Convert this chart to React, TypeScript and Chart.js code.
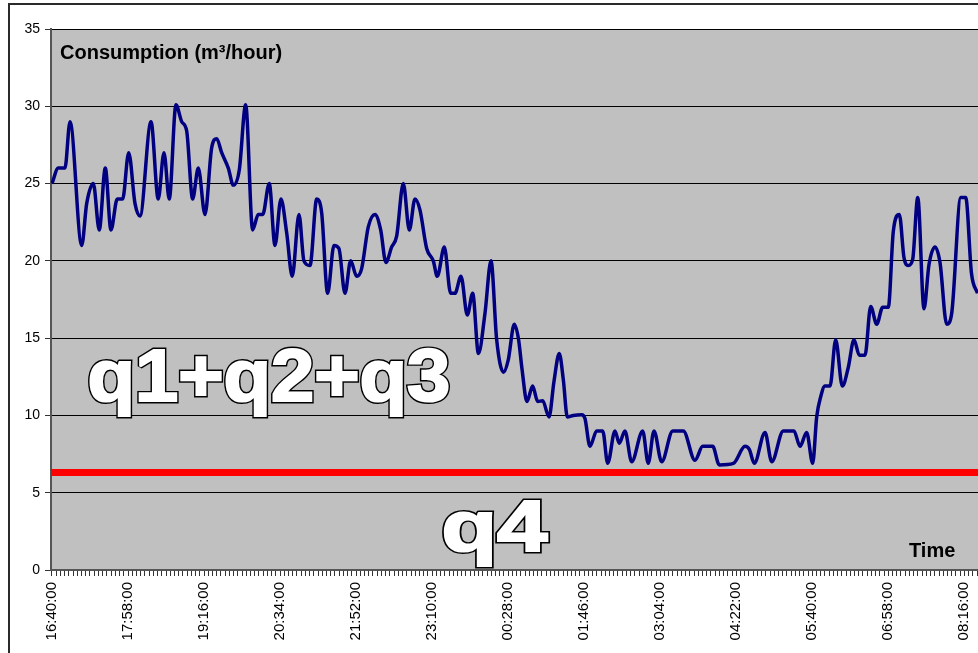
import React, { useEffect, useRef } from 'react';
import { Chart, registerables } from 'chart.js';

Chart.register(...registerables);

const FONT = '"Liberation Sans", Arial, Helvetica, sans-serif';

// Time axis labels (one every 78 minutes, starting 16:40:00)
const tickLabels = [
  '16:40:00', '17:58:00', '19:16:00', '20:34:00', '21:52:00', '23:10:00', '00:28:00',
  '01:46:00', '03:04:00', '04:22:00', '05:40:00', '06:58:00', '08:16:00',
];
const minutesPerLabel = 78;
const minorTicksPerLabel = 18;
const axisEndMinutes = 950;

// Minutes after 16:40:00 of the readings, and consumption (m³/hour)
const sampleMinutes = [
  0, 6.5, 13.3, 18.5, 30.5, 35.6, 42.4, 48.5, 54.7, 60.5,
  67, 72.5, 78.7, 85.2, 90.3, 101.6, 109, 114.9, 120.3, 127.2,
  133.1, 138.2, 144.3, 150.1, 157, 163.8, 169, 174.1, 180.9, 186,
  192.2, 198.7, 205.9, 211.6, 216.2, 222.9, 228.8, 234.9, 240.8, 246.5,
  253.4, 258.5, 264.7, 271.6, 276.7, 282.8, 289.3, 294.4, 300.6, 306.4,
  312.6, 317.7, 324.5, 331.4, 337.2, 342.6, 348.5, 353.6, 360.4, 366.6,
  372.4, 377.5, 384.4, 391.2, 395.3, 402.5, 409, 413.4, 419.6, 426.1,
  431.6, 437.5, 444.2, 450.4, 456.2, 463.2, 468.1, 474.3, 478.7, 482.2,
  487.3, 493.1, 498.3, 503.4, 509.9, 515, 520.4, 524.6, 528.7, 534.8,
  543.4, 546.8, 551.9, 558.8, 565, 570.1, 577.6, 582, 587.8, 594.7,
  606, 611.7, 617.6, 625.5, 636.8, 647.7, 659.6, 667.6, 677.8, 684.6,
  699, 711, 715.4, 720.5, 731.5, 738.4, 750.2, 761.2, 767.4, 774.2,
  780.4, 784.5, 788.6, 793, 798.2, 804, 810.8, 816.9, 822.8, 828.2,
  834.1, 839.9, 846.1, 852.2, 858, 863.1, 869.3, 874.1, 878.5, 883,
  888.2, 894.6, 899.7, 905.9, 911, 917.9, 923, 932.3, 937.4, 943.3,
  949.5,
];
const consumption = [
  25, 26, 26, 29, 21, 23.7, 25, 22, 26, 22,
  24, 24, 27, 23.7, 22.9, 29, 24, 27, 24, 30.1,
  29, 28.4, 24, 26, 23, 27.3, 27.9, 27, 26, 24.9,
  25.9, 30.1, 22, 23, 23, 25, 21, 24, 21.8, 19,
  23, 20, 19.7, 24, 23.1, 17.9, 21, 20.8, 17.9, 20,
  19, 19.5, 22.2, 23, 22, 19.9, 20.9, 21.6, 25, 22,
  24, 23.3, 20.8, 20, 19, 20.9, 17.9, 17.9, 19, 16.5,
  17.9, 14, 16.6, 20, 14.9, 12.8, 13.6, 15.9, 14.9, 13,
  10.9, 11.9, 10.9, 10.95, 9.9, 12.2, 14, 12.3, 9.9, 10,
  10.05, 9.8, 8, 9, 9, 6.9, 9, 8.2, 9, 7,
  9, 6.9, 9, 7, 9, 9, 7.1, 8, 8, 6.8,
  6.9, 8, 7.8, 6.9, 8.9, 7, 9, 9, 8, 8.9,
  6.9, 9.9, 11.2, 11.9, 11.9, 14.9, 11.9, 13.1, 14.9, 13.9,
  13.9, 17.05, 15.9, 17, 17, 21.9, 23, 20.2, 19.7, 20.1,
  24.1, 16.9, 19.75, 20.9, 19.9, 15.9, 16.6, 24.1, 24.1, 19.2,
  17.9,
];
const q4Level = 6.3;
const yMin = 0;
const yMax = 35;
const yStep = 5;

const texts = {
  title: 'Consumption (m³/hour)',
  xTitle: 'Time',
  upper: 'q1+q2+q3',
  lower: 'q4',
};

function drawOutlined(ctx: CanvasRenderingContext2D, text: string, x: number, y: number, size: number, sx: number) {
  ctx.save();
  ctx.translate(x, y);
  ctx.scale(sx, 1);
  ctx.font = `bold ${size}px ${FONT}`;
  ctx.textAlign = 'left';
  ctx.textBaseline = 'alphabetic';
  ctx.lineJoin = 'miter';
  ctx.miterLimit = 2;
  ctx.strokeStyle = '#000';
  ctx.lineWidth = 5;
  ctx.strokeText(text, 0, 0);
  ctx.strokeStyle = '#fff';
  ctx.lineWidth = 2.2;
  ctx.strokeText(text, 0, 0);
  ctx.fillStyle = '#fff';
  ctx.fillText(text, 0, 0);
  ctx.restore();
}

const decor = {
  id: 'decor',
  beforeDraw(chart: any) {
    const { ctx, chartArea: a } = chart;
    ctx.save();
    ctx.fillStyle = '#fff';
    ctx.fillRect(0, 0, chart.width, chart.height);
    ctx.fillStyle = '#c0c0c0';
    ctx.fillRect(a.left, a.top, a.right - a.left, a.bottom - a.top);
    ctx.fillStyle = '#2a2a2a';
    ctx.fillRect(8, 3, 2, chart.height);
    ctx.fillRect(8, 3, chart.width, 2);
    ctx.restore();
  },
  afterDraw(chart: any) {
    const { ctx } = chart;
    ctx.save();
    ctx.fillStyle = '#000';
    ctx.font = `bold 20px ${FONT}`;
    ctx.textAlign = 'left';
    ctx.textBaseline = 'alphabetic';
    ctx.fillText(texts.title, 60, 59);
    ctx.fillText(texts.xTitle, 909, 557);
    ctx.restore();
    drawOutlined(ctx, texts.upper, 87.5, 400.5, 74, 1.05);
    drawOutlined(ctx, texts.lower, 441.5, 550.5, 72, 1.26);
  },
};

export default function App() {
  const ref = useRef<HTMLCanvasElement>(null);

  useEffect(() => {
    const step = minutesPerLabel / minorTicksPerLabel;
    const tickValues: number[] = [];
    for (let i = 0; i * step <= axisEndMinutes; i++) tickValues.push(i * step);

    const points = sampleMinutes.map((m, i) => ({ x: m, y: consumption[i] }));

    const chart = new Chart(ref.current as HTMLCanvasElement, {
      type: 'line',
      data: {
        datasets: [
          {
            data: points,
            borderColor: '#000080',
            borderWidth: 3.5,
            pointRadius: 0,
            fill: false,
            cubicInterpolationMode: 'monotone',
          },
          {
            data: [
              { x: -1, y: q4Level },
              { x: axisEndMinutes, y: q4Level },
            ],
            borderColor: '#ff0000',
            borderWidth: 7,
            pointRadius: 0,
            fill: false,
            tension: 0,
          },
        ],
      },
      options: {
        responsive: false,
        animation: false,
        events: [],
        layout: { padding: { top: 29, right: 0, bottom: 0, left: 0 }, autoPadding: false },
        plugins: { legend: { display: false }, tooltip: { enabled: false } },
        scales: {
          x: {
            type: 'linear',
            min: -1,
            max: axisEndMinutes,
            afterBuildTicks: (s: any) => {
              s.ticks = tickValues.map((v) => ({ value: v }));
            },
            afterFit: (s: any) => {
              s.height = 83;
              s.paddingLeft = 0;
              s.paddingRight = 0;
            },
            ticks: {
              autoSkip: false,
              minRotation: 90,
              maxRotation: 90,
              padding: 6,
              color: '#000',
              font: { family: FONT, size: 15 },
              callback: (_v: any, i: number) =>
                i % minorTicksPerLabel === 0 ? tickLabels[i / minorTicksPerLabel] ?? '' : '',
            },
            grid: { drawOnChartArea: false, drawTicks: true, tickLength: 6, color: '#333', lineWidth: 1 },
            border: { display: true, color: '#555', width: 2 },
          },
          y: {
            min: yMin,
            max: yMax,
            afterFit: (s: any) => {
              s.width = 51;
              s.paddingTop = 0;
              s.paddingBottom = 0;
            },
            ticks: { stepSize: yStep, padding: 5, color: '#000', font: { family: FONT, size: 14 } },
            grid: { color: '#000', lineWidth: 1, tickLength: 6, tickColor: '#333' },
            border: { display: true, color: '#555', width: 2 },
          },
        },
      },
      plugins: [decor],
    } as any);
    return () => chart.destroy();
  }, []);

  return (
    <div style={{ position: 'fixed', left: 0, top: 0, width: 978, height: 653, background: '#fff' }}>
      <canvas ref={ref} width={978} height={653} style={{ display: 'block' }} />
    </div>
  );
}
